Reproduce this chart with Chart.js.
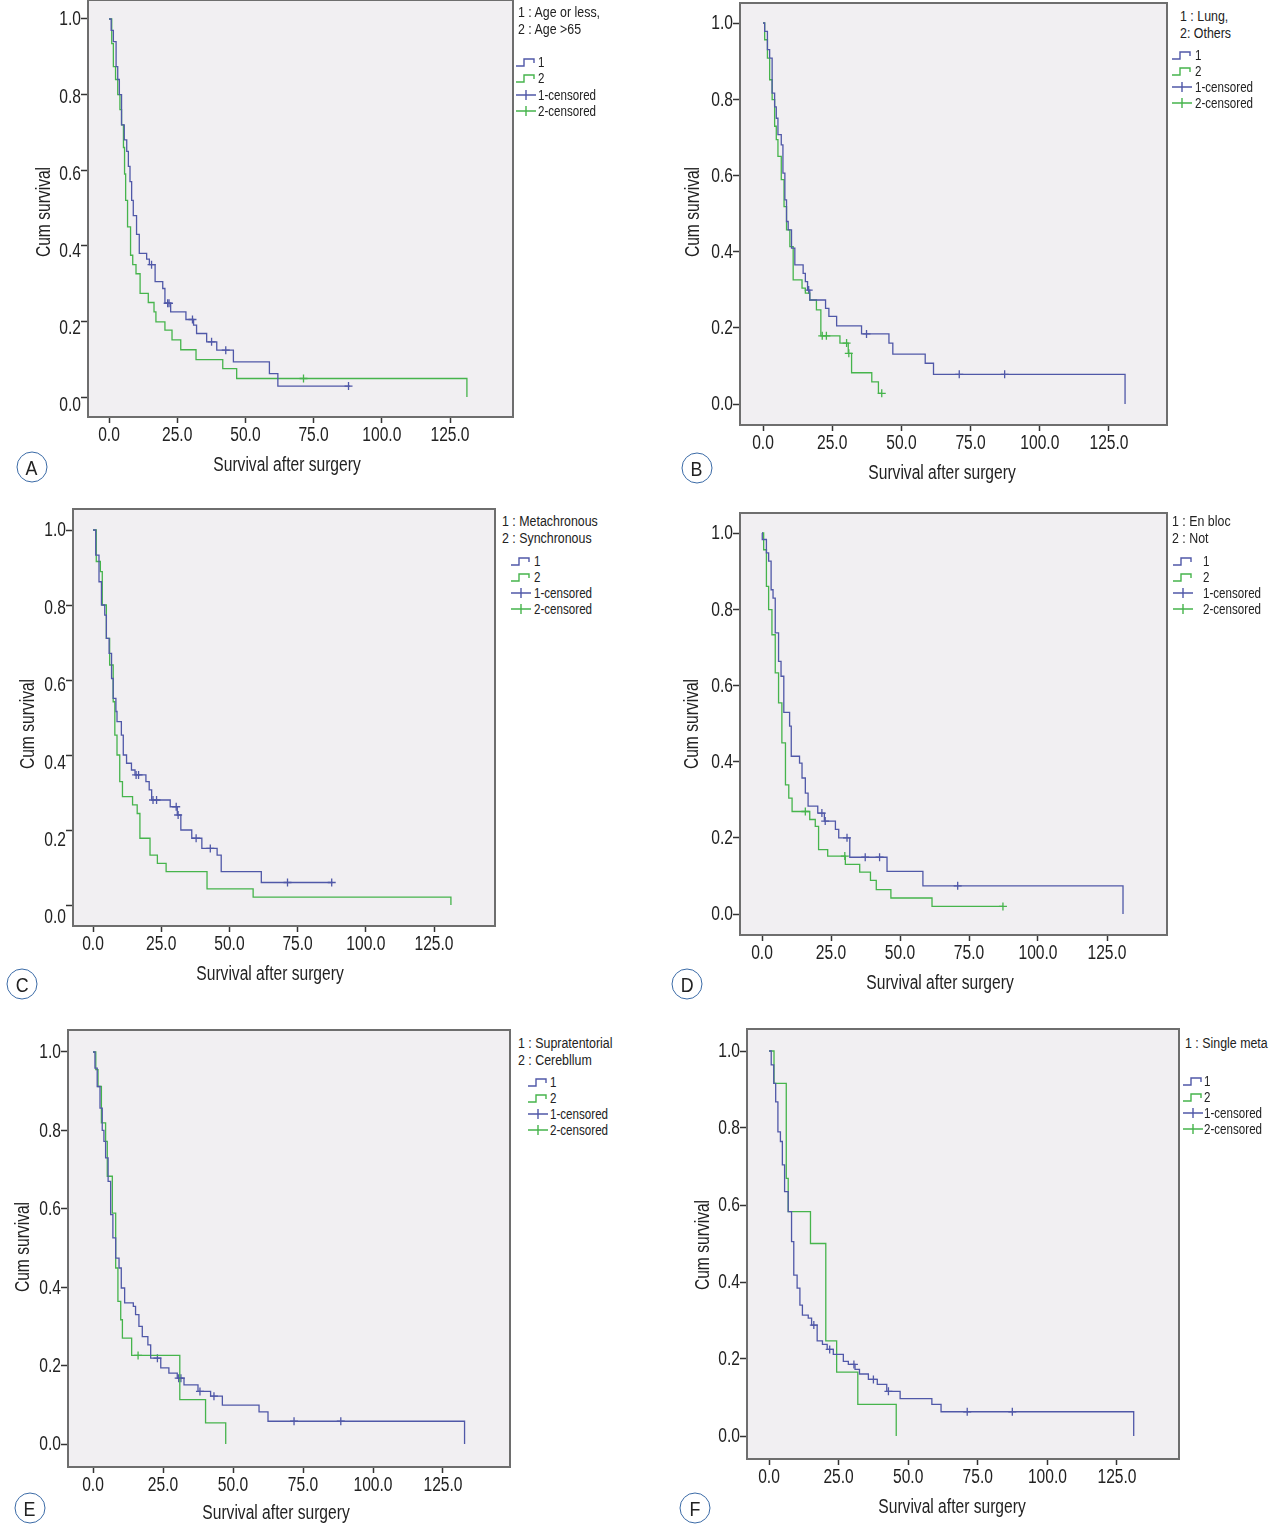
<!DOCTYPE html>
<html>
<head>
<meta charset="utf-8">
<script src="https://cdn.jsdelivr.net/npm/chart.js@4/dist/chart.umd.min.js"></script>
<style>
  body { margin:0; background:#fff; width:1270px; height:1535px; position:relative; overflow:hidden;
         font-family:"Liberation Sans",Arial,sans-serif; color:#222; }
  canvas { position:absolute; }
  .ttl { position:absolute; font-size:19.5px; white-space:nowrap; transform:translate(-50%,-50%) scaleX(0.8); }
  .ytl { transform:translate(-50%,-50%) rotate(-90deg) scaleX(0.8); }
  .letter { position:absolute; width:29px; height:29px; border:1.5px solid #3a6aa6; border-radius:50%;
            transform:translate(-50%,-50%); text-align:center; line-height:29px; font-size:21px; color:#222; }
  .letter span { display:inline-block; transform:scaleX(0.85); }
  .head { position:absolute; font-size:15.5px; line-height:17px; white-space:nowrap; transform:scaleX(0.8); transform-origin:0 0; }
  .item { position:absolute; font-size:14.5px; white-space:nowrap; transform:translateY(-50%) scaleX(0.8); transform-origin:0 50%; }
  .icon { position:absolute; transform:translateY(-50%); line-height:0; }
</style>
</head>
<body>
<script>
// x / y ticks shared by all panels
var xTicks = [0, 25, 50, 75, 100, 125];
var yTicks = [0, 0.2, 0.4, 0.6, 0.8, 1.0];

// A: age
var aT1 = [0, 0.8, 1.6, 2.6, 3.2, 3.8, 4.6, 5.6, 6.5, 7.1, 7.7, 8.3, 8.9, 10.1, 11.1, 13.8, 14.8, 16.9, 19.7, 20.5, 22.6, 28.2, 31.0, 32.1, 35.8, 39.5, 45.6, 58.8, 61.9, 88.4];
var aS1 = [1.0, 0.97, 0.94, 0.874, 0.84, 0.80, 0.72, 0.68, 0.65, 0.61, 0.57, 0.52, 0.48, 0.43, 0.38, 0.365, 0.35, 0.305, 0.287, 0.248, 0.225, 0.205, 0.19, 0.168, 0.146, 0.124, 0.093, 0.062, 0.029, 0.029];
var aC1 = [15.6, 21.5, 22.0, 30.6, 37.6, 42.8, 87.8];
var aT2 = [0, 1.0, 1.6, 2.4, 3.2, 4.0, 4.6, 5.3, 5.7, 6.1, 6.8, 7.9, 8.7, 9.9, 11.4, 14.4, 16.5, 17.2, 20.5, 23.1, 26.3, 31.9, 41.7, 46.8, 131.2];
var aS2 = [1.0, 0.935, 0.874, 0.84, 0.80, 0.76, 0.72, 0.66, 0.59, 0.52, 0.45, 0.375, 0.35, 0.326, 0.274, 0.25, 0.225, 0.199, 0.177, 0.151, 0.125, 0.099, 0.075, 0.049, 0];
var aC2 = [71.3];

// B: lung vs others
var bT1 = [0, 0.6, 1.6, 2.4, 3.3, 4.2, 4.8, 5.4, 6.6, 7.2, 7.9, 8.5, 9.1, 10.3, 11.5, 14.5, 15.3, 16.1, 16.9, 22.6, 23.8, 26.6, 35.6, 45.5, 46.9, 58.6, 61.6, 130.8];
var bS1 = [1.0, 0.978, 0.93, 0.908, 0.816, 0.78, 0.75, 0.707, 0.68, 0.606, 0.536, 0.479, 0.457, 0.409, 0.365, 0.343, 0.321, 0.299, 0.273, 0.251, 0.23, 0.205, 0.184, 0.16, 0.131, 0.107, 0.078, 0];
var bC1 = [16.5, 37.4, 70.9, 87.3];
var bT2 = [0, 0.6, 1.6, 2.4, 3.3, 4.2, 4.8, 5.4, 6.6, 7.6, 8.5, 9.7, 10.9, 14.1, 15.3, 16.9, 19.3, 20.9, 27.8, 30.8, 32.0, 39.3, 41.7, 42.9];
var bS2 = [1.0, 0.956, 0.908, 0.851, 0.799, 0.729, 0.694, 0.65, 0.589, 0.518, 0.457, 0.413, 0.326, 0.304, 0.291, 0.273, 0.247, 0.179, 0.16, 0.133, 0.082, 0.058, 0.028, 0.028];
var bC2 = [21.4, 22.9, 30.2, 31.0, 42.9];

// C: metachronous vs synchronous
var cT1 = [0, 1.0, 2.2, 3.1, 4.3, 4.9, 5.9, 6.8, 7.4, 8.4, 8.8, 10.4, 11.1, 12.3, 14.1, 15.4, 19.4, 20.6, 21.5, 28.3, 30.9, 32.2, 36.2, 39.9, 45.5, 47.0, 61.7, 87.8];
var cS1 = [1.0, 0.933, 0.862, 0.80, 0.773, 0.711, 0.671, 0.604, 0.551, 0.516, 0.489, 0.453, 0.40, 0.378, 0.36, 0.347, 0.329, 0.307, 0.28, 0.262, 0.24, 0.20, 0.178, 0.151, 0.133, 0.089, 0.06, 0.06];
var cC1 = [15.8, 16.7, 22.0, 23.3, 30.5, 31.2, 37.8, 43.0, 71.3, 87.5];
var cT2 = [0, 1.2, 2.7, 3.4, 4.9, 6.1, 7.4, 8.0, 8.8, 9.8, 10.8, 14.5, 16.2, 17.2, 20.9, 23.6, 26.8, 41.8, 58.7, 131.2];
var cS2 = [1.0, 0.916, 0.889, 0.80, 0.711, 0.64, 0.542, 0.453, 0.40, 0.329, 0.289, 0.267, 0.244, 0.178, 0.133, 0.111, 0.089, 0.043, 0.021, 0];
var cC2 = [];

// D: en bloc vs not
var dT1 = [0, 0.1, 1.6, 2.4, 3.3, 4.0, 4.8, 6.0, 6.9, 7.9, 10.0, 10.6, 13.6, 14.5, 15.7, 16.7, 20.2, 22.6, 26.6, 27.8, 31.8, 45.3, 58.3, 130.8];
var dS1 = [1.0, 0.983, 0.948, 0.926, 0.851, 0.829, 0.738, 0.663, 0.624, 0.529, 0.493, 0.414, 0.396, 0.357, 0.317, 0.283, 0.265, 0.244, 0.222, 0.20, 0.149, 0.112, 0.074, 0];
var dC1 = [21.7, 22.9, 30.8, 37.4, 42.6, 70.9];
var dT2 = [0, 0.6, 1.6, 2.4, 3.6, 4.8, 6.0, 7.2, 8.5, 9.7, 10.9, 17.3, 19.3, 20.5, 23.8, 30.2, 35.4, 39.3, 41.4, 46.7, 61.6, 87.3];
var dS2 = [1.0, 0.956, 0.86, 0.799, 0.733, 0.633, 0.554, 0.449, 0.339, 0.304, 0.269, 0.248, 0.23, 0.169, 0.152, 0.13, 0.11, 0.088, 0.064, 0.042, 0.02, 0.02];
var dC2 = [15.7, 30.0, 87.3];

// E: supratentorial vs cerebellum
var eT1 = [0, 0.7, 1.5, 2.5, 3.3, 3.9, 4.5, 5.4, 6.3, 7.1, 8.1, 9.3, 10.1, 11.3, 14.4, 15.2, 16.4, 17.6, 19.6, 20.6, 24.2, 27.1, 30.1, 32.5, 37.5, 42.0, 46.2, 59.3, 62.5, 132.7];
var eS1 = [1.0, 0.959, 0.912, 0.857, 0.80, 0.772, 0.73, 0.67, 0.585, 0.526, 0.474, 0.449, 0.398, 0.36, 0.351, 0.33, 0.30, 0.274, 0.253, 0.219, 0.194, 0.181, 0.168, 0.151, 0.134, 0.122, 0.099, 0.082, 0.058, 0];
var eC1 = [23.0, 30.6, 31.4, 38.2, 43.2, 71.8, 88.5];
var eT2 = [0, 1.0, 1.8, 3.0, 4.5, 5.1, 6.9, 8.1, 8.9, 9.9, 10.5, 13.8, 31.0, 40.2, 47.4];
var eS2 = [1.0, 0.955, 0.912, 0.819, 0.772, 0.683, 0.589, 0.449, 0.364, 0.317, 0.27, 0.226, 0.113, 0.054, 0];
var eC2 = [16.1];

// F: single meta
var fT1 = [0, 0.8, 1.7, 2.4, 3.2, 4.1, 4.8, 5.6, 6.9, 8.1, 8.9, 10.1, 11.1, 12.0, 14.1, 15.3, 17.3, 19.2, 20.9, 23.1, 26.7, 28.5, 30.9, 32.5, 35.7, 38.9, 42.3, 47.1, 58.5, 61.8, 131.0];
var fS1 = [1.0, 0.964, 0.916, 0.868, 0.79, 0.765, 0.704, 0.635, 0.583, 0.505, 0.418, 0.384, 0.34, 0.314, 0.306, 0.288, 0.247, 0.238, 0.225, 0.212, 0.194, 0.186, 0.173, 0.161, 0.147, 0.134, 0.116, 0.097, 0.082, 0.063, 0];
var fC1 = [16.1, 21.8, 30.5, 37.5, 42.9, 71.2, 87.4];
var fT2 = [0, 1.8, 6.2, 6.9, 14.9, 20.4, 24.3, 31.9, 45.7];
var fS2 = [1.0, 0.916, 0.669, 0.583, 0.50, 0.247, 0.166, 0.082, 0];
var fC2 = [];

var legendItems = ['1', '2', '1-censored', '2-censored'];

var BLUE = '#5058a8';
var GREEN = '#46b44c';
var TICK_FONT = '19.5px "Liberation Sans", Arial, sans-serif';
var SQUEEZE = 0.8;

// box = plot frame [left, top, right, bottom]; x0/x125, y1/y0 = pixel of tick 0/125 and 1.0/0.0
var panels = [
  {id:'A', box:[88,0,513,417], x0:109, x125:450, y1:19, y0:397, drift:8, t1:aT1, s1:aS1, c1:aC1, t2:aT2, s2:aS2, c2:aC2,
   xt:[287,464], yt:[43,212], letter:[32,467], head:[518,3], heads:['1 : Age or less,', '2 : Age >65'], icon:515, text:538, rows:[62,78,95,111]},
  {id:'B', box:[740,3,1167,425], x0:763, x125:1109, y1:23, y0:404, drift:0, t1:bT1, s1:bS1, c1:bC1, t2:bT2, s2:bS2, c2:bC2,
   xt:[942,472], yt:[692,212], letter:[697,468], head:[1180,7], heads:['1 : Lung,', '2: Others'], icon:1171, text:1195, rows:[55,71,87,103]},
  {id:'C', box:[73,509,495,926], x0:93, x125:434, y1:530, y0:905, drift:12, t1:cT1, s1:cS1, c1:cC1, t2:cT2, s2:cS2, c2:cC2,
   xt:[270,973], yt:[27,724], letter:[22,984], head:[502,512], heads:['1 : Metachronous', '2 : Synchronous'], icon:510, text:534, rows:[561,577,593,609]},
  {id:'D', box:[740,513,1167,935], x0:762, x125:1107, y1:533, y0:914, drift:0, t1:dT1, s1:dS1, c1:dC1, t2:dT2, s2:dS2, c2:dC2,
   xt:[940,982], yt:[691,724], letter:[687,984], head:[1172,512], heads:['1 : En bloc', '2 : Not'], icon:1172, text:1203, rows:[561,577,593,609]},
  {id:'E', box:[68,1030,510,1467], x0:93, x125:443, y1:1052, y0:1444, drift:0, t1:eT1, s1:eS1, c1:eC1, t2:eT2, s2:eS2, c2:eC2,
   xt:[276,1512], yt:[22,1247], letter:[30,1508], head:[518,1034], heads:['1 : Supratentorial', '2 : Cerebllum'], icon:527, text:550, rows:[1082,1098,1114,1130]},
  {id:'F', box:[747,1029,1179,1459], x0:769, x125:1117, y1:1051, y0:1436, drift:0, t1:fT1, s1:fS1, c1:fC1, t2:fT2, s2:fS2, c2:fC2,
   xt:[952,1506], yt:[702,1245], letter:[695,1508], head:[1185,1034], heads:['1 : Single meta'], icon:1182, text:1204, rows:[1081,1097,1113,1129]}
];

function steps(T, S) {
  return T.map(function(t, i){ return {x:t, y:S[i]}; });
}
function survAt(T, S, t) {
  var s = S[0];
  for (var i = 0; i < T.length; i++) { if (T[i] <= t) s = S[i]; }
  return s;
}

var framePlugin = {
  id: 'frame',
  beforeDraw: function(chart) {
    var a = chart.chartArea, ctx = chart.ctx;
    ctx.save();
    ctx.fillStyle = '#f1eff2';
    ctx.fillRect(a.left, a.top, a.right - a.left, a.bottom - a.top);
    ctx.restore();
  },
  afterDraw: function(chart) {
    var a = chart.chartArea, ctx = chart.ctx;
    ctx.save();
    ctx.strokeStyle = '#6e6e6e';
    ctx.lineWidth = 2;
    ctx.strokeRect(a.left, a.top, a.right - a.left, a.bottom - a.top);
    ctx.restore();
  }
};

// narrow tick labels, placed with the chart's own scales
var labelPlugin = {
  id: 'narrowLabels',
  afterDraw: function(chart, args, opts) {
    var ctx = chart.ctx, xs = chart.scales.x, ys = chart.scales.y;
    ctx.save();
    ctx.fillStyle = '#222';
    ctx.font = TICK_FONT;
    ctx.textBaseline = 'middle';
    ctx.textAlign = 'center';
    xs.ticks.forEach(function(t){
      ctx.save();
      ctx.translate(xs.getPixelForValue(t.value), xs.top + 19);
      ctx.scale(SQUEEZE, 1);
      ctx.fillText(Number(t.value).toFixed(1), 0, 0);
      ctx.restore();
    });
    ctx.textAlign = 'right';
    ys.ticks.forEach(function(t){
      ctx.save();
      ctx.translate(ys.right - 7, ys.getPixelForValue(t.value) + opts.drift * (1 - t.value));
      ctx.scale(SQUEEZE, 1);
      ctx.fillText(Number(t.value).toFixed(1), 0, 1);
      ctx.restore();
    });
    ctx.restore();
  }
};

function add(html) {
  var d = document.createElement('div');
  d.innerHTML = html;
  document.body.appendChild(d.firstChild);
}

function iconSvg(kind, color) {
  var path = kind === 'step' ? 'M1 10 H9 V3 H19 V7' : 'M1 6 H21 M11 1 V11';
  return '<svg width="22" height="12" viewBox="0 0 22 12"><path d="' + path + '" fill="none" stroke="' + color + '" stroke-width="1.4"/></svg>';
}

panels.forEach(function(p){
  var L = p.box[0], T = p.box[1], R = p.box[2], B = p.box[3];
  var padL = 80, padT = 6, padR = 6, padB = 40;
  var cv = document.createElement('canvas');
  cv.width = R - L + padL + padR;
  cv.height = B - T + padT + padB;
  cv.style.left = (L - padL) + 'px';
  cv.style.top = (T - padT) + 'px';
  document.body.appendChild(cv);

  var pxX = (p.x125 - p.x0) / 125;
  var pxY = (p.y0 - p.y1);
  var xmin = (L - p.x0) / pxX, xmax = (R - p.x0) / pxX;
  var ymin = (p.y0 - B) / pxY, ymax = (p.y0 - T) / pxY;

  new Chart(cv, {
    type: 'scatter',
    data: {
      datasets: [
        {data: steps(p.t1, p.s1), showLine: true, stepped: true, borderColor: BLUE, borderWidth: 1.3, pointRadius: 0, fill: false},
        {data: steps(p.t2, p.s2), showLine: true, stepped: true, borderColor: GREEN, borderWidth: 1.3, pointRadius: 0, fill: false},
        {data: p.c1.map(function(t){ return {x:t, y:survAt(p.t1, p.s1, t)}; }), showLine: false,
         pointStyle: 'cross', pointRadius: 4, borderColor: BLUE, borderWidth: 1.3},
        {data: p.c2.map(function(t){ return {x:t, y:survAt(p.t2, p.s2, t)}; }), showLine: false,
         pointStyle: 'cross', pointRadius: 4, borderColor: GREEN, borderWidth: 1.3}
      ]
    },
    options: {
      responsive: false,
      animation: false,
      events: [],
      layout: {padding: {left: 0, top: padT, right: padR, bottom: 0}},
      plugins: {legend: {display: false}, tooltip: {enabled: false}, narrowLabels: {drift: p.drift}},
      scales: {
        x: {
          type: 'linear', min: xmin, max: xmax,
          afterFit: function(s){ s.height = padB; },
          afterBuildTicks: function(s){ s.ticks = xTicks.map(function(v){ return {value:v}; }); },
          border: {display: false},
          grid: {drawOnChartArea: false, tickLength: 6, tickColor: '#333', tickWidth: 1.5},
          ticks: {display: false}
        },
        y: {
          type: 'linear', min: ymin, max: ymax,
          afterFit: function(s){ s.width = padL; },
          afterBuildTicks: function(s){ s.ticks = yTicks.map(function(v){ return {value:v}; }); },
          border: {display: false},
          grid: {drawOnChartArea: false, tickLength: 7, tickColor: '#333', tickWidth: 1.5},
          ticks: {display: false}
        }
      }
    },
    plugins: [framePlugin, labelPlugin]
  });

  add('<div class="ttl" style="left:' + p.xt[0] + 'px;top:' + p.xt[1] + 'px">Survival after surgery</div>');
  add('<div class="ttl ytl" style="left:' + p.yt[0] + 'px;top:' + p.yt[1] + 'px">Cum survival</div>');
  add('<div class="letter" style="left:' + p.letter[0] + 'px;top:' + p.letter[1] + 'px"><span>' + p.id + '</span></div>');
  add('<div class="head" style="left:' + p.head[0] + 'px;top:' + p.head[1] + 'px">' + p.heads.join('<br>') + '</div>');
  legendItems.forEach(function(name, i){
    var color = (i % 2 === 0) ? BLUE : GREEN;
    var kind = i < 2 ? 'step' : 'cross';
    add('<div class="icon" style="left:' + p.icon + 'px;top:' + p.rows[i] + 'px">' + iconSvg(kind, color) + '</div>');
    add('<div class="item" style="left:' + p.text + 'px;top:' + p.rows[i] + 'px">' + name + '</div>');
  });
});
</script>
</body>
</html>
